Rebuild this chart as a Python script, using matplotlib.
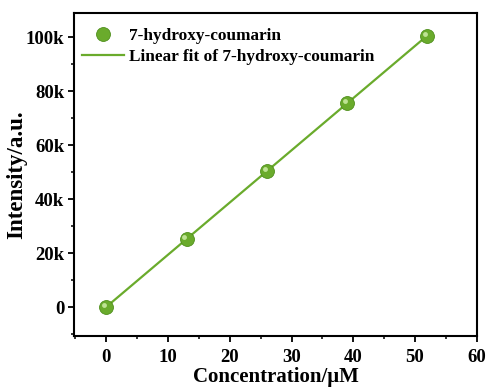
import numpy as np
import matplotlib
matplotlib.use("Agg")
import matplotlib.pyplot as plt
from matplotlib.ticker import MultipleLocator, FuncFormatter
from matplotlib.transforms import ScaledTranslation
from matplotlib.lines import Line2D

# Measured calibration points
concentration = [0, 13, 26, 39, 52]          # µM
intensity = [0, 25200, 50500, 75500, 100500]  # a.u.

series_label = "7-hydroxy-coumarin"
fit_label = "Linear fit of 7-hydroxy-coumarin"

plt.rcParams["font.family"] = ["Liberation Serif", "DejaVu Serif"]
plt.rcParams["font.weight"] = "bold"

green = "#6aab2c"
dark_green = "#4f8f1c"
light_green = "#c8eaa0"

fig = plt.figure(figsize=(4.88, 3.88), dpi=100)
ax = fig.add_axes([0.152, 0.134, 0.825, 0.833])

# Least-squares fit of the measured points
slope, intercept = np.polyfit(concentration, intensity, 1)
xf = np.array([min(concentration), max(concentration)])
ax.plot(xf, slope * xf + intercept, color=green, lw=1.6, zorder=2)

# Points drawn as shaded spheres
ax.plot(concentration, intensity, ls="none", marker="o", ms=10,
        mfc=green, mec=dark_green, mew=0.6, zorder=3)
hl = ax.transData + ScaledTranslation(-1.6 / 72, 1.6 / 72, fig.dpi_scale_trans)
ax.plot(concentration, intensity, ls="none", marker="o", ms=3.5,
        mfc=light_green, mec="none", alpha=0.9, zorder=4, transform=hl)

ax.set_xlim(-5.2, 60)
ax.set_ylim(-10700, 109000)

ax.xaxis.set_major_locator(MultipleLocator(10))
ax.xaxis.set_minor_locator(MultipleLocator(5))
ax.yaxis.set_major_locator(MultipleLocator(20000))
ax.yaxis.set_minor_locator(MultipleLocator(10000))
ax.yaxis.set_major_formatter(FuncFormatter(lambda v, p: "0" if v == 0 else f"{int(v/1000)}k"))

ax.tick_params(which="major", direction="out", length=4, width=1.3, labelsize=13.5)
ax.tick_params(axis="x", which="major", pad=5)
ax.tick_params(axis="y", which="major", pad=3)
ax.tick_params(which="minor", direction="out", length=2.5, width=1.1)
for s in ax.spines.values():
    s.set_linewidth(1.5)

ax.set_xlabel("Concentration/μM", fontsize=15, fontweight="bold", labelpad=1)
ax.set_ylabel("Intensity/a.u.", fontsize=16.5, fontweight="bold")
ax.yaxis.set_label_coords(-0.117, 0.5)

handles = [
    Line2D([], [], ls="none", marker="o", ms=10, mfc=green, mec=dark_green, mew=0.6),
    Line2D([], [], color=green, lw=1.6),
]
ax.legend(handles, [series_label, fit_label], loc="upper left", frameon=False,
          prop={"weight": "bold", "size": 12.4}, handlelength=2.4,
          bbox_to_anchor=(-0.01, 0.99), borderaxespad=0.3,
          labelspacing=0.3, handletextpad=0.3)

fig.savefig("out.png", dpi=100)
